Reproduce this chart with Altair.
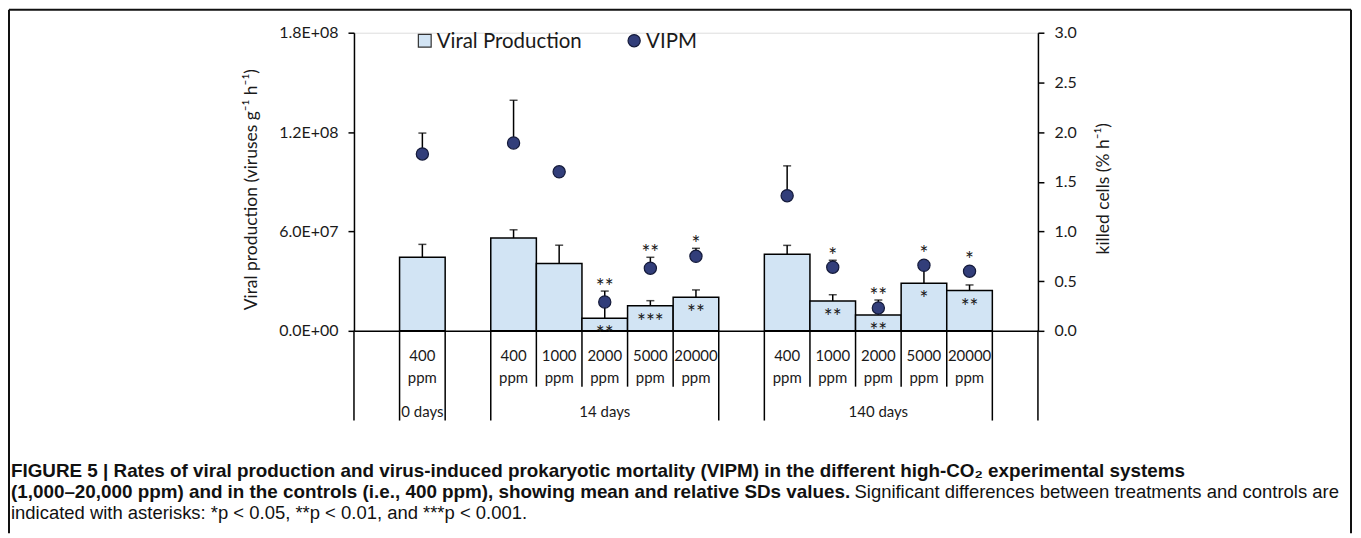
import altair as alt
import pandas as pd

# ---------------- data ----------------
groups = ["0 days", "14 days", "140 days"]
group_sizes = [1, 5, 5]
conc = ["400", "400", "1000", "2000", "5000", "20000", "400", "1000", "2000", "5000", "20000"]
unit = "ppm"
vp = [4.44e7, 5.60e7, 4.07e7, 0.76e7, 1.52e7, 2.03e7, 4.62e7, 1.80e7, 0.96e7, 2.87e7, 2.43e7]
vp_sd = [0.78e7, 0.50e7, 1.10e7, 0.92e7, 0.30e7, 0.44e7, 0.54e7, 0.38e7, 0.40e7, 0.92e7, 0.34e7]
vipm = [1.78, 1.89, 1.60, 0.29, 0.63, 0.75, 1.36, 0.64, 0.23, 0.66, 0.60]
vipm_sd = [0.21, 0.43, 0.03, 0.11, 0.11, 0.08, 0.30, 0.07, 0.08, 0.03, 0.03]
vp_sig = ["", "", "", "**", "***", "**", "", "**", "**", "*", "**"]
vipm_sig = ["", "", "", "**", "**", "*", "", "*", "**", "*", "*"]
left_ticks = [0, 6e7, 1.2e8, 1.8e8]
left_tick_labels = ["0.0E+00", "6.0E+07", "1.2E+08", "1.8E+08"]
right_ticks = [0, 0.5, 1.0, 1.5, 2.0, 2.5, 3.0]

caption1 = ("FIGURE 5 | Rates of viral production and virus-induced prokaryotic mortality (VIPM) "
            "in the different high-CO\u2082 experimental systems")
caption2a = ("(1,000\u201320,000 ppm) and in the controls (i.e., 400 ppm), showing mean and "
             "relative SDs values.")
caption2b = "Significant differences between treatments and controls are"
caption3 = "indicated with asterisks: *p < 0.05, **p < 0.01, and ***p < 0.001."

# ---------------- build tables ----------------
slots = ["gap0"]
rows = []
lines = []      # table separator lines
glabels = []
i = 0
lines.append(dict(key="gap0", kind="tall"))
for gi, (g, n) in enumerate(zip(groups, group_sizes)):
    keys = []
    for k in range(n):
        key = f"{g}|{conc[i]}"
        keys.append(key)
        slots.append(key)
        rows.append(dict(key=key, group=g, conc=conc[i], unit=unit,
                         vp=vp[i], vp_hi=vp[i] + vp_sd[i],
                         vipm=vipm[i], vipm_hi=vipm[i] + vipm_sd[i],
                         vipm_top=vipm[i] + max(vipm_sd[i], 0.07),
                         vp_sig=vp_sig[i], vipm_sig=vipm_sig[i]))
        lines.append(dict(key=key, kind="tall" if k == 0 else "short"))
        i += 1
    glabels.append(dict(key=keys[len(keys) // 2], group=g))
    gap = f"gap{gi + 1}"
    slots.append(gap)
    lines.append(dict(key=gap, kind="tall"))

df = pd.DataFrame(rows)
df_lines = pd.DataFrame(lines)
df_end = pd.DataFrame([dict(key=slots[-1])])
df_g = pd.DataFrame(glabels)

W, H = 686, 299
FONT = "Lato"
INK = "#1a1a1a"
BAR_FILL = "#D2E4F4"
DOT_FILL = "#323E7A"

xscale = alt.Scale(domain=slots, type="band", paddingInner=0, paddingOuter=0)
xaxis = alt.Axis(labels=False, ticks=False, title=None, grid=False,
                 domainColor="black", domainWidth=1.5)


def X(**kw):
    return alt.X("key:N", scale=xscale, axis=xaxis, **kw)


label_expr = ("[" + ",".join(f"'{s}'" for s in left_tick_labels) + "]"
              "[indexof([" + ",".join(repr(float(v)) for v in left_ticks) + "], datum.value)]")

left_axis = alt.Axis(values=left_ticks, labelExpr=label_expr,
                     title="Viral production (viruses g\u207b\u00b9 h\u207b\u00b9)",
                     grid=False, tickSize=6, tickColor="black", tickWidth=1.5,
                     domainColor="black", domainWidth=1.5,
                     labelFont=FONT, labelFontSize=16, labelColor=INK, labelPadding=10,
                     titleFont=FONT, titleFontSize=17.5, titleFontWeight="normal", titleColor=INK,
                     titleX=-103, titleY=157, titleAngle=-90, titleAlign="center",
                     titleBaseline="middle")
right_axis = alt.Axis(values=right_ticks, format=".1f", orient="right",
                      title="killed cells  (% h\u207b\u00b9)",
                      grid=False, tickSize=6, tickColor="black", tickWidth=1.5,
                      domainColor="black", domainWidth=1.5,
                      labelFont=FONT, labelFontSize=16, labelColor=INK, labelPadding=10,
                      titleFont=FONT, titleFontSize=17.5, titleFontWeight="normal", titleColor=INK,
                      titleX=66, titleY=156, titleAngle=-90, titleAlign="center",
                      titleBaseline="middle")
lscale = alt.Scale(domain=[0, 1.8e8], nice=False, zero=True)
rscale = alt.Scale(domain=[0, 3.0], nice=False, zero=True)


def YL(f):
    return alt.Y(f"{f}:Q", scale=lscale, axis=left_axis)


def YR(f):
    return alt.Y(f"{f}:Q", scale=rscale, axis=right_axis)


base = alt.Chart(df)

bars = base.mark_bar(fill=BAR_FILL, stroke="black", strokeWidth=1.5).encode(x=X(), y=YL("vp"))
vp_rule = base.mark_rule(color="black", strokeWidth=1.5).encode(
    x=X(), y=YL("vp"), y2=alt.Y2("vp_hi"))
vp_cap = base.mark_tick(color="black", thickness=1.5, size=8).encode(x=X(), y=YL("vp_hi"))
vp_txt = base.mark_text(font=FONT, fontSize=21, fill=INK, baseline="alphabetic", dy=23).encode(
    x=X(), y=YL("vp"), text="vp_sig:N")
left = alt.layer(bars, vp_rule, vp_cap, vp_txt)

vi_rule = base.mark_rule(color="black", strokeWidth=1.5).encode(
    x=X(), y=YR("vipm"), y2=alt.Y2("vipm_hi"))
vi_cap = base.mark_tick(color="black", thickness=1.5, size=8).encode(x=X(), y=YR("vipm_hi"))
dots = base.mark_point(filled=True, fill=DOT_FILL, stroke="#141a3a", strokeWidth=1.2,
                       size=150, opacity=1, shape="circle").encode(x=X(), y=YR("vipm"))
vi_txt = base.mark_text(font=FONT, fontSize=21, fill=INK, baseline="alphabetic", dy=3).encode(
    x=X(), y=YR("vipm_top"), text="vipm_sig:N")
right = alt.layer(vi_rule, vi_cap, dots, vi_txt)

# table under the axis
tall = alt.Chart(df_lines).transform_filter("datum.kind == 'tall'").mark_rule(
    color="black", strokeWidth=1.5).encode(x=X(bandPosition=0), y=alt.value(H), y2=alt.value(H + 90))
short = alt.Chart(df_lines).transform_filter("datum.kind == 'short'").mark_rule(
    color="black", strokeWidth=1.5).encode(x=X(bandPosition=0), y=alt.value(H), y2=alt.value(H + 56))
endl = alt.Chart(df_end).mark_rule(color="black", strokeWidth=1.5).encode(
    x=X(bandPosition=1), y=alt.value(H), y2=alt.value(H + 90))
conc_t = base.mark_text(font=FONT, fontSize=15, color=INK, baseline="middle").encode(
    x=X(), y=alt.value(H + 25), text="conc:N")
unit_t = base.mark_text(font=FONT, fontSize=15, color=INK, baseline="middle").encode(
    x=X(), y=alt.value(H + 47), text="unit:N")
grp_t = alt.Chart(df_g).mark_text(font=FONT, fontSize=15, color=INK, baseline="middle").encode(
    x=X(), y=alt.value(H + 81), text="group:N")

# legend
one = pd.DataFrame({"a": [0]})
leg_sq = alt.Chart(one).mark_square(size=165, fill=BAR_FILL, stroke="#333333", strokeWidth=1.2,
                                    opacity=1).encode(x=alt.value(71), y=alt.value(8))
leg_sq_t = alt.Chart(one).mark_text(font=FONT, fontSize=20.5, color=INK, align="left",
                                    baseline="middle").encode(
    x=alt.value(83), y=alt.value(9), text=alt.value("Viral Production"))
leg_dot = alt.Chart(one).mark_point(filled=True, fill=DOT_FILL, stroke="#141a3a", strokeWidth=1.2,
                                    size=150, opacity=1).encode(x=alt.value(281), y=alt.value(8))
leg_dot_t = alt.Chart(one).mark_text(font=FONT, fontSize=20.5, color=INK, align="left",
                                     baseline="middle").encode(
    x=alt.value(293), y=alt.value(9), text=alt.value("VIPM"))


def cap(txt, x, y, weight, size):
    return alt.Chart(one).mark_text(font="Liberation Sans", fontSize=size, fontWeight=weight,
                                    color="#111111", align="left", baseline="middle").encode(
        x=alt.value(x), y=alt.value(y), text=alt.value(txt))


c1 = cap(caption1, -344, 440, "bold", 18.9)
c2a = cap(caption2a, -344, 461, "bold", 18.9)
c2b = cap(caption2b, 502, 461, "normal", 18.5)
c3 = cap(caption3, -344, 482, "normal", 18.5)

# frame around the figure
fl = alt.Chart(one).mark_rule(color="#111111", strokeWidth=2).encode(
    x=alt.value(-346), y=alt.value(-23), y2=alt.value(502))
ft = alt.Chart(one).mark_rule(color="#111111", strokeWidth=2).encode(
    x=alt.value(-346), x2=alt.value(1000), y=alt.value(-23))
fr = alt.Chart(one).mark_rule(color="#111111", strokeWidth=2).encode(
    x=alt.value(1000), y=alt.value(-23), y2=alt.value(502))

chart = alt.layer(
    left, right, tall, short, endl, conc_t, unit_t, grp_t,
    leg_sq, leg_sq_t, leg_dot, leg_dot_t, c1, c2a, c2b, c3, fl, ft, fr
).resolve_scale(y="independent").properties(
    width=W, height=H,
    autosize=alt.AutoSizeParams(type="none"),
    padding={"left": 347, "top": 24, "right": 316, "bottom": 203},
).configure_view(stroke=None).configure(background="white")

chart.save("out.html", embed_options={"renderer": "svg", "actions": False})
